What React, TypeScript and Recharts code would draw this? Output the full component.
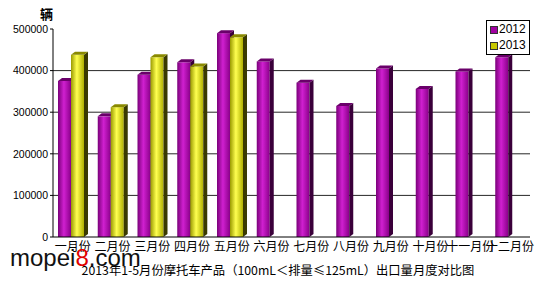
import React from "react";
import { BarChart, Bar, XAxis, YAxis, CartesianGrid } from "recharts";

const months = ["一月份","二月份","三月份","四月份","五月份","六月份","七月份","八月份","九月份","十月份","十一月份","十二月份"];
const sales2012 = [375000, 290000, 390000, 420000, 490000, 422000, 371000, 315000, 405000, 356000, 398000, 432000];
const sales2013: (number | null)[] = [438000, 312000, 432000, 410000, 480000, null, null, null, null, null, null, null];
const yTicks = [0, 100000, 200000, 300000, 400000, 500000];
const seriesNames = ["2012", "2013"];
const title = "2013年1-5月份摩托车产品（100mL＜排量≤125mL）出口量月度对比图";
const unitLabel = "辆";

const data = months.map((m, i) => ({ month: m, s2012: sales2012[i], s2013: sales2013[i] }));

const makeShape = (side: string, top: string, gid: string) => (props: any) => {
  const { x, y, width, height } = props;
  if (height == null || height <= 0 || width == null) return <g />;
  const d = 4;
  const fw = width - d;
  return (
    <g>
      <rect x={x} y={y} width={fw} height={height} fill={`url(#${gid})`} />
      <polygon points={`${x + fw},${y} ${x + width},${y - 3} ${x + width},${y + height - 3} ${x + fw},${y + height}`} fill={side} />
      <polygon points={`${x},${y} ${x + d},${y - 3} ${x + width},${y - 3} ${x + fw},${y}`} fill={top} />
    </g>
  );
};

const PurpleShape = makeShape("#3a003a", "#6a006a", "gPurple");
const YellowShape = makeShape("#3a3a00", "#8a8a00", "gYellow");

const XTick = (props: any) => {
  const { x, y, payload } = props;
  return (
    <g>
      <text x={x} y={y + 6} textAnchor="middle" fontSize={12} fill="#000" fontFamily="'Noto Sans CJK SC'">{payload.value}</text>
    </g>
  );
};

const GridLine = (p: any) => {
  if (p.index === yTicks.length - 1 || p.index === 0) return <g key={`gl-${p.index}`} />;
  return <line key={`gl-${p.index}`} x1={p.x1} y1={p.y1} x2={p.x2} y2={p.y2} stroke="#000" strokeOpacity={0.85} strokeWidth={1} />;
};

export default function App() {
  return (
    <div style={{ position: "absolute", left: 0, top: 0, width: 550, height: 282, background: "#fff", overflow: "hidden" }}>
      <BarChart width={550} height={282} data={data} margin={{ top: 29, right: 20, bottom: 25, left: 0 }} barSize={17} barGap={-4} barCategoryGap={8}>
        <defs>
          <linearGradient id="gPurple" x1="0" y1="0" x2="1" y2="0">
            <stop offset="0%" stopColor="#7a007a" />
            <stop offset="45%" stopColor="#d020d0" />
            <stop offset="100%" stopColor="#8a008a" />
          </linearGradient>
          <linearGradient id="gYellow" x1="0" y1="0" x2="1" y2="0">
            <stop offset="0%" stopColor="#9a9a00" />
            <stop offset="45%" stopColor="#ffff50" />
            <stop offset="100%" stopColor="#b0b000" />
          </linearGradient>
        </defs>
        <CartesianGrid vertical={false} horizontal={GridLine} />
        <XAxis dataKey="month" height={20} interval={0} tick={<XTick />} tickLine={false} axisLine={{ stroke: "#000" }} />
        <YAxis
          width={53}
          domain={[0, 500000]}
          ticks={yTicks}
          interval={0}
          tickSize={3}
          tickLine={{ stroke: "#000" }}
          axisLine={{ stroke: "#000" }}
          tick={{ fontSize: 10.5, fill: "#000", fontFamily: "'Liberation Sans', Arial" }}
        />
        <Bar dataKey="s2012" name={seriesNames[0]} fill="#a000a0" shape={PurpleShape} isAnimationActive={false} />
        <Bar dataKey="s2013" name={seriesNames[1]} fill="#c8c800" shape={YellowShape} isAnimationActive={false} />
      </BarChart>
      <div style={{ position: "absolute", left: 40, top: 4, fontSize: 13, fontFamily: "'Noto Sans CJK SC'", fontWeight: "bold" }}>{unitLabel}</div>
      <div style={{ position: "absolute", left: 486, top: 20, width: 44, height: 35, border: "1px solid #000", boxSizing: "border-box", background: "#fff", fontFamily: "'Liberation Sans', Arial", fontSize: 12 }}>
        <div style={{ position: "absolute", left: 3, top: 5, width: 6, height: 6, background: "#a000a0", border: "1px solid #333" }} />
        <div style={{ position: "absolute", left: 12, top: 1, lineHeight: "14px" }}>{seriesNames[0]}</div>
        <div style={{ position: "absolute", left: 3, top: 21, width: 6, height: 6, background: "#c8c800", border: "1px solid #333" }} />
        <div style={{ position: "absolute", left: 12, top: 17, lineHeight: "14px" }}>{seriesNames[1]}</div>
      </div>
      <div style={{ position: "absolute", left: 0, width: 550, top: 262, textAlign: "center", fontSize: 12.3, fontFamily: "'Noto Sans CJK SC'", lineHeight: "16px", paddingLeft: 6, boxSizing: "border-box" }}>{title}</div>
      <div style={{ position: "absolute", left: 10, top: 246, fontSize: 24, fontFamily: "'Liberation Sans', Arial", lineHeight: "24px", color: "#111" }}>
        mopei<span style={{ color: "#e00000" }}>8</span>.com
      </div>
    </div>
  );
}
